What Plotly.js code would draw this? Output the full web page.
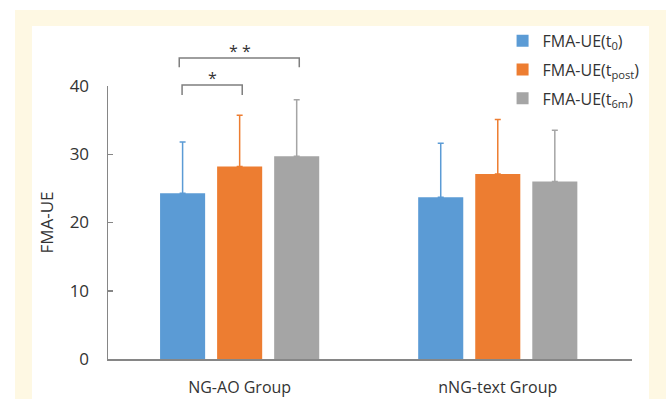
<!DOCTYPE html>
<html>
<head>
<meta charset="utf-8">
<script src="https://cdn.plot.ly/plotly-3.0.1.min.js"></script>
<style>
  html, body { margin: 0; padding: 0; background: #ffffff; width: 666px; height: 399px; overflow: hidden; }
  #frame { position: absolute; left: 15px; top: 10px; width: 651px; height: 389px; background: #FEF8E3; }
  #chart { position: absolute; left: 17px; top: 16px; width: 617px; height: 373px; }
</style>
</head>
<body>
<div id="frame"><div id="chart"></div></div>
<script>
const groups = ["NG-AO Group", "nNG-text Group"];
const seriesNames = ["FMA-UE(t<sub>0</sub>)", "FMA-UE(t<sub>post</sub>)", "FMA-UE(t<sub>6m</sub>)"];
const t0Means = [24.3, 23.7];
const t0SD = [7.5, 7.9];
const tpostMeans = [28.2, 27.1];
const tpostSD = [7.5, 8.0];
const t6mMeans = [29.7, 26.0];
const t6mSD = [8.3, 7.5];
const colors = ["#5B9BD5", "#ED7D31", "#A5A5A5"];
const yTicks = [0, 10, 20, 30, 40];

const means = [t0Means, tpostMeans, t6mMeans];
const sds = [t0SD, tpostSD, t6mSD];

const traces = means.map((m, i) => ({
  type: "bar",
  name: seriesNames[i],
  x: groups,
  y: m,
  marker: { color: colors[i] },
  error_y: { type: "data", array: sds[i], symmetric: false, arrayminus: sds[i].map(() => 0),
             color: colors[i], thickness: 1.5, width: 3 },
  legendgroup: "g" + i
}));

const font = "'Open Sans', Lato, sans-serif";
const bracketColor = "#7f7f7f";

const layout = {
  width: 617, height: 373,
  margin: { l: 76, r: 17, t: 60, b: 40, autoexpand: false },
  paper_bgcolor: "#ffffff",
  plot_bgcolor: "#ffffff",
  barmode: "group",
  bargap: 0.337,
  bargroupgap: 0.21,
  showlegend: true,
  legend: {
    x: 0.753, y: 1.228, xanchor: "left", yanchor: "top",
    font: { family: font, size: 16, color: "#333333" },
    bgcolor: "rgba(0,0,0,0)",
    traceorder: "grouped",
    tracegroupgap: 5
  },
  xaxis: {
    type: "category",
    range: [-0.51, 1.52],
    showline: true, linecolor: "#868686", linewidth: 1.5,
    ticks: "", showgrid: false, zeroline: false,
    tickfont: { family: font, size: 16, color: "#333333" },
    ticklabelstandoff: 13
  },
  yaxis: {
    range: [0, 40],
    tickvals: yTicks,
    showline: true, linecolor: "#868686", linewidth: 1.5,
    ticks: "inside", ticklen: 5, tickcolor: "#868686", tickwidth: 1.5,
    showgrid: false, zeroline: false,
    tickfont: { family: font, size: 17, color: "#333333" },
    ticklabelstandoff: 14,
    title: { text: "FMA-UE", font: { family: font, size: 17, color: "#333333" }, standoff: 11 }
  },
  shapes: [
    { type: "path", xref: "x", yref: "paper", path: "M -0.234,1.069 L -0.234,1.1026 L 0.231,1.1026 L 0.231,1.069",
      line: { color: bracketColor, width: 1.5 } },
    { type: "path", xref: "x", yref: "paper", path: "M -0.223,0.967 L -0.223,1.0037 L 0.01,1.0037 L 0.01,0.967",
      line: { color: bracketColor, width: 1.5 } }
  ],
  annotations: [
    { xref: "x", yref: "paper", x: 0, y: 1.128, text: "* *", showarrow: false, yanchor: "middle",
      font: { family: font, size: 16, color: "#333333" } },
    { xref: "x", yref: "paper", x: -0.107, y: 1.028, text: "*", showarrow: false, yanchor: "middle",
      font: { family: font, size: 16, color: "#333333" } }
  ]
};

Plotly.newPlot("chart", traces, layout, { displayModeBar: false, staticPlot: true });
</script>
</body>
</html>
